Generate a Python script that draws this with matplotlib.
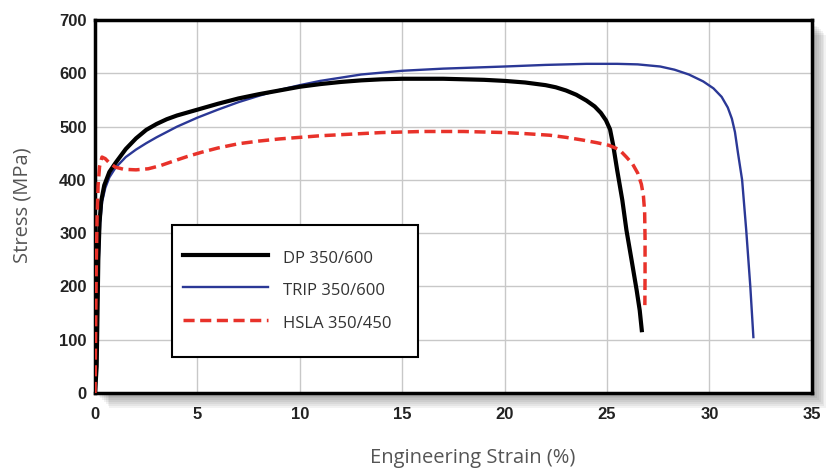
import matplotlib.pyplot as plt
from matplotlib.patches import Rectangle
import numpy as np

# stress-strain curves
dp_strain = [0, 0.08, 0.12, 0.16, 0.22, 0.3, 0.45, 0.7, 1.0, 1.5, 2.0, 2.5, 3, 3.5, 4, 5, 6, 7, 8, 9, 10, 11, 12,
             13, 14, 15, 16, 17, 18, 19, 20, 21, 22, 22.5, 23, 23.5, 24, 24.4, 24.7, 24.95, 25.15, 25.3, 25.5,
             25.75, 25.95, 26.2, 26.45, 26.6, 26.7]
dp_stress = [0, 50, 150, 250, 320, 360, 390, 415, 432, 458, 478, 494, 505, 514, 521, 532, 543, 553, 561, 568, 575, 580, 584,
             587, 589, 590, 590, 590, 589, 588, 586, 583, 578, 574, 568, 560, 549, 538, 526, 512, 495, 466, 418,
             362, 306, 250, 193, 155, 118]

trip_strain = [0, 0.06, 0.12, 0.18, 0.25, 0.35, 0.5, 0.7, 1.0, 1.5, 2, 2.5, 3, 4, 5, 6, 7, 8, 9, 10, 11, 12, 13,
               15, 17, 20, 22, 24, 25.5, 26.5, 27.6, 28.3, 29.0, 29.7, 30.2, 30.6, 30.9, 31.1, 31.25, 31.4, 31.6, 31.8,
               32.0, 32.15]
trip_stress = [0, 40, 140, 250, 320, 360, 385, 405, 423, 443, 457, 469, 480, 500, 517, 532, 546, 558, 569, 578, 586, 592, 598,
               605, 609, 613, 616, 618, 618, 617, 613, 607, 598, 585, 572, 556, 536, 515, 490, 450, 400, 306,
               200, 105]

hsla_strain = [0, 0.03, 0.06, 0.1, 0.15, 0.22, 0.34, 0.5, 0.7, 1.0, 1.4, 2.0, 2.6, 3.2, 3.8, 4.5, 5.2, 6.0, 7.0, 8.0,
               9.0, 10, 11, 12, 13, 14, 15, 16, 17, 18, 19, 20, 21, 22.2, 23, 23.8, 24.5, 25.1, 25.6, 25.95, 26.25,
               26.5, 26.68, 26.78, 26.84, 26.86, 26.86, 26.85]
hsla_stress = [0, 120, 240, 330, 390, 425, 443, 440, 432, 424, 420, 419, 421, 427, 435, 444, 452, 460, 468, 473,
               477, 480, 483, 485, 487, 489, 490, 491, 491, 491, 490, 489, 487, 484, 480, 475, 470, 465, 457, 443, 430,
               413, 392, 370, 340, 290, 220, 165]

xticks = [0, 5, 10, 15, 20, 25, 30, 35]
yticks = [0, 100, 200, 300, 400, 500, 600, 700]

fig = plt.figure(figsize=(8.3, 4.69), dpi=100)
ax = fig.add_axes([0.1145, 0.162, 0.8635, 0.795])

# soft drop shadow behind the frame
pos = ax.get_position()
for k in range(8):
    off = 0.002 + 0.0022 * k
    fig.patches.append(Rectangle((pos.x0 + off, pos.y0 - off * 1.8), pos.width, pos.height,
                                 transform=fig.transFigure, facecolor="#000000", alpha=0.05,
                                 edgecolor="none", zorder=-10))
ax.set_facecolor("white")
ax.set_zorder(1)

ax.plot(dp_strain, dp_stress, color="black", lw=3, label="DP 350/600", zorder=4)
ax.plot(trip_strain, trip_stress, color="#2b3896", lw=1.7, label="TRIP 350/600", zorder=3)
ax.plot(hsla_strain, hsla_stress, color="#e8322a", lw=2.5, ls=(0, (3.2, 1.6)), label="HSLA 350/450", zorder=5)

ax.set_xlim(0, 35)
ax.set_ylim(0, 700)
ax.set_xticks(xticks)
ax.set_yticks(yticks)
ax.grid(True, color="#c8c8c8", lw=1)
ax.set_axisbelow(True)
ax.tick_params(length=0, pad=10, labelsize=12, labelcolor="#222222")
for lab in ax.get_xticklabels() + ax.get_yticklabels():
    lab.set_fontweight("bold")
    lab.set_fontfamily("Liberation Sans")
ax.tick_params(axis="y", pad=6)
for s in ax.spines.values():
    s.set_linewidth(2.5)
    s.set_color("black")

ax.set_xlabel("Engineering Strain (%)", fontsize=14.5, color="#555555", family="Open Sans")
ax.xaxis.set_label_coords(0.527, -0.148)
ax.set_ylabel("Stress (MPa)", fontsize=14.5, color="#555555", family="Open Sans")
ax.yaxis.set_label_coords(-0.087, 0.505)

# legend box drawn separately so its padding can match the original
ax.add_patch(Rectangle((0.107, 0.097), 0.343, 0.354, transform=ax.transAxes,
                       facecolor="white", edgecolor="black", lw=1.5, zorder=6))
leg = ax.legend(loc="center left", bbox_to_anchor=(0.1227, 0.277), frameon=False,
                handlelength=5.1, handletextpad=0.9, handleheight=1.5,
                labelspacing=0.72, borderpad=0, borderaxespad=0,
                prop={"family": "Open Sans", "size": 12})
leg.set_zorder(7)
for t in leg.get_texts():
    t.set_color("#333333")

fig.savefig("out.png", dpi=100)
